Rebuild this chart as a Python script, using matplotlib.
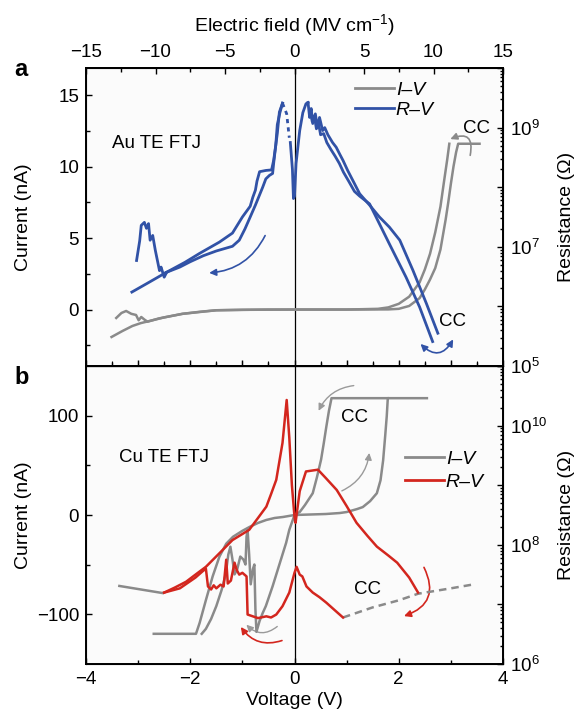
import numpy as np
import matplotlib
matplotlib.use("Agg")
import matplotlib.pyplot as plt
from matplotlib.patches import FancyArrowPatch
from matplotlib.lines import Line2D
from matplotlib.ticker import FixedLocator, FuncFormatter, LogLocator, NullFormatter

plt.rcParams['font.family'] = ['Liberation Sans', 'DejaVu Sans']
plt.rcParams['mathtext.fontset'] = 'custom'
plt.rcParams['mathtext.rm'] = 'Liberation Sans'
plt.rcParams['mathtext.it'] = 'Liberation Sans:italic'
plt.rcParams['mathtext.bf'] = 'Liberation Sans:bold'

GRAY = '#8a8a8a'
BLUE = '#3152a6'
RED = '#d3261e'

# ---------------- (a) Au top electrode ----------------
# I-V, current in nA
au_iv_up_v = [-3.51, -3.3, -3.11, -2.95, -2.78, -2.5, -2.15, -1.8, -1.5, -1.0, -0.5, 0.0, 1.0, 1.8,
              2.0, 2.2, 2.4, 2.5, 2.6, 2.7, 2.8, 2.9, 2.95, 3.0, 3.05, 3.1, 3.14, 3.55]
au_iv_up_i = [-1.92, -1.5, -1.15, -0.95, -0.8, -0.55, -0.3, -0.15, -0.05, -0.02, 0, 0, 0, 0.01,
              0.05, 0.25, 0.8, 1.4, 2.1, 2.9, 4.2, 6.3, 7.5, 8.8, 10.0, 11.0, 11.6, 11.6]
au_iv_dn_v = [2.97, 2.93, 2.87, 2.8, 2.7, 2.6, 2.5, 2.4, 2.2, 2.0, 1.8, 1.6, 1.0, 0.0, -1.0, -1.5,
              -2.15, -2.6, -2.82, -2.88, -2.94, -2.99, -3.04, -3.13, -3.23, -3.32, -3.42]
au_iv_dn_i = [11.6, 10.5, 9.0, 7.2, 5.4, 3.9, 2.8, 1.9, 0.9, 0.4, 0.15, 0.05, 0, 0, -0.02, -0.05,
              -0.3, -0.62, -0.85, -0.7, -0.52, -0.75, -0.38, -0.3, -0.1, -0.24, -0.59]

# R-V, resistance in ohm
au_rv_up_v = [-3.12, -2.8, -2.46, -2.1, -1.82, -1.44, -1.19, -1.0, -0.9, -0.85, -0.8, -0.75, -0.72,
              -0.67, -0.55, -0.44, -0.4, -0.36, -0.33, -0.28, -0.23]
au_rv_up_r = [1.74e6, 2.51e6, 3.72e6, 5.50e6, 7.76e6, 1.20e7, 1.70e7, 3.16e7, 4.17e7, 4.79e7, 6.76e7,
              8.91e7, 1.26e8, 1.82e8, 1.91e8, 1.95e8, 2.82e8, 5.01e8, 1.12e9, 1.78e9, 2.57e9]
au_rv_lo_v = [-2.46, -2.2, -2.0, -1.75, -1.5, -1.19, -1.06, -0.95, -0.85, -0.75, -0.68, -0.61, -0.55,
              -0.48, -0.42, -0.4, -0.36, -0.33, -0.29, -0.23]
au_rv_lo_r = [3.72e6, 4.57e6, 5.62e6, 7.08e6, 8.51e6, 1.02e7, 1.29e7, 2.00e7, 3.16e7, 5.01e7, 7.08e7,
              1.00e8, 1.38e8, 1.58e8, 1.70e8, 2.51e8, 5.01e8, 7.94e8, 1.82e9, 2.57e9]
au_rv_spike_v = [-3.03, -2.97, -2.94, -2.88, -2.84, -2.8, -2.77, -2.72, -2.67, -2.63, -2.59, -2.56,
                 -2.5, -2.46]
au_rv_spike_r = [5.89e6, 1.26e7, 2.29e7, 2.57e7, 2.04e7, 2.45e7, 1.29e7, 1.55e7, 8.71e6, 5.89e6,
                 3.98e6, 4.57e6, 3.09e6, 3.63e6]
au_rv_gap_v = [-0.23, -0.15, -0.1]
au_rv_gap_r = [2.57e9, 1.70e9, 6.76e8]
au_rv_dip_v = [-0.08, -0.04, -0.02, 0.0, 0.03, 0.1, 0.16, 0.22, 0.26]
au_rv_dip_r = [5.62e8, 2.00e8, 6.46e7, 7.08e7, 2.51e8, 8.91e8, 1.78e9, 2.51e9, 2.63e9]
au_rv_r1_v = [0.26, 0.29, 0.32, 0.35, 0.4, 0.44, 0.48, 0.54, 0.58, 0.64, 0.73, 0.8, 0.87, 0.93, 1.02,
              1.15, 1.25, 1.44, 1.63, 1.82, 2.02, 2.27, 2.53, 2.75]
au_rv_r1_r = [2.63e9, 1.48e9, 2.09e9, 1.17e9, 1.70e9, 1.00e9, 1.48e9, 8.91e8, 1.00e9, 7.59e8, 5.62e8,
              4.68e8, 3.55e8, 2.82e8, 1.91e8, 1.15e8, 7.76e7, 5.01e7, 3.16e7, 2.14e7, 1.29e7, 4.07e6,
              1.12e6, 3.55e5]
au_rv_r2_v = [0.3, 0.34, 0.38, 0.42, 0.46, 0.5, 0.56, 0.62, 0.7, 0.78, 0.86, 0.94, 1.04, 1.15, 1.25,
              1.44, 1.82, 2.14, 2.4, 2.65]
au_rv_r2_r = [2.00e9, 1.26e9, 1.58e9, 9.55e8, 1.20e9, 7.59e8, 7.94e8, 5.62e8, 4.27e8, 3.31e8, 2.51e8,
              1.78e8, 1.26e8, 8.51e7, 7.08e7, 5.25e7, 1.12e7, 3.09e6, 9.77e5, 2.57e5]

# ---------------- (b) Cu top electrode ----------------
cu_iv_up_v = [-2.70, -1.89, -1.82, -1.70, -1.57, -1.44, -1.31, -1.18, -1.0, -0.86, -0.7, -0.54, -0.38,
              -0.22, 0.0, 0.3, 0.6, 0.87, 1.0, 1.1, 1.2, 1.31, 1.45, 1.58, 1.65, 1.70, 1.74, 1.77,
              1.79, 2.54]
cu_iv_up_i = [-120, -120, -109, -86, -62, -42, -29, -22, -16, -12, -8, -5, -3, -2, 0, 0.5, 1, 2, 3,
              4.5, 6, 8, 14, 22, 35, 55, 80, 100, 118, 118]
cu_iv_dn_v = [1.79, 0.71, 0.66, 0.61, 0.56, 0.51, 0.43, 0.35, 0.2, 0.1, 0.0, -0.1, -0.16, -0.29, -0.42,
              -0.55, -0.61, -0.67, -0.73, -0.75, -0.77, -0.80, -0.84, -0.87, -0.90, -0.92, -0.94,
              -0.98, -1.04, -1.10, -1.15, -1.19, -1.23, -1.27, -1.32, -1.40, -1.50, -1.60, -1.70,
              -1.78]
cu_iv_dn_i = [118, 118, 105, 89, 72, 56, 38, 22, 10, 3, 0, -15, -28, -50, -72, -92, -99, -107, -118, -95,
              -50, -55, -70, -40, -15, -22, -50, -45, -42, -55, -60, -45, -32, -40, -60, -76, -92,
              -105, -115, -120]

cu_rv_up_v = [-2.50, -2.30, -2.08, -1.90, -1.70, -1.45, -1.19, -0.87, -0.70, -0.54, -0.45, -0.35,
              -0.23, -0.15, -0.10, -0.05, 0.00, 0.02, 0.10, 0.22, 0.45, 0.60, 0.81, 1.00, 1.19, 1.40,
              1.58, 1.80, 1.97, 2.20, 2.37]
cu_rv_up_r = [1.58e7, 1.91e7, 2.40e7, 3.16e7, 4.27e7, 7.08e7, 1.20e8, 1.78e8, 2.82e8, 4.37e8, 7.08e8,
              1.23e9, 5.13e9, 2.69e10, 6.31e9, 1.00e9, 2.95e8, 2.34e8, 7.94e8, 1.70e9, 1.82e9,
              1.32e9, 8.32e8, 4.47e8, 2.34e8, 1.41e8, 9.33e7, 6.61e7, 5.01e7, 2.82e7, 1.58e7]
cu_rv_lo_v = [-2.50, -2.20, -1.90, -1.77, -1.70, -1.66, -1.60, -1.55, -1.50, -1.42, -1.36, -1.31,
              -1.28, -1.22, -1.19, -1.15, -1.11, -1.06, -1.00, -0.92, -0.90, -0.80, -0.70, -0.54,
              -0.45, -0.35, -0.23, -0.10, 0.00, 0.04, 0.10, 0.15, 0.23, 0.35, 0.48, 0.61, 0.75, 0.93]
cu_rv_lo_r = [1.58e7, 1.86e7, 2.82e7, 3.55e7, 3.98e7, 2.00e7, 1.78e7, 2.09e7, 1.86e7, 2.14e7, 2.00e7,
              5.62e7, 2.24e7, 2.51e7, 3.39e7, 5.01e7, 3.80e7, 3.16e7, 3.39e7, 2.95e7, 6.76e6, 6.31e6,
              5.89e6, 6.31e6, 6.03e6, 6.76e6, 9.33e6, 1.58e7, 3.39e7, 4.27e7, 3.16e7, 2.95e7, 2.00e7,
              1.58e7, 1.32e7, 1.07e7, 8.32e6, 6.03e6]
cu_cc_right_v = [0.93, 1.5, 2.0, 2.37, 3.0, 3.4]
cu_cc_right_r = [6.03e6, 8.91e6, 1.17e7, 1.51e7, 1.86e7, 2.14e7]
cu_cc_left_v = [-3.36, -2.53]
cu_cc_left_r = [2.04e7, 1.55e7]


def volt_to_field(v):
    return v * 15 / 4


def field_to_volt(e):
    return e * 4 / 15


def decade_formatter(shown):
    def fmt(val, pos):
        e = int(round(np.log10(val)))
        return '10$^{%d}$' % e if e in shown else ''
    return FuncFormatter(fmt)


def curved_arrow(ax, start, end, rad, color, style='-|>', lw=1.2):
    ax.add_patch(FancyArrowPatch(start, end, connectionstyle='arc3,rad=%s' % rad,
                                 arrowstyle=style, mutation_scale=10, lw=lw, color=color))


tick_kw = dict(direction='in', labelsize=13.5, width=1.0, pad=5)

fig = plt.figure(figsize=(5.79, 7.14), dpi=100)
ax_a = fig.add_axes([86 / 579, 1 - 366 / 714, 417 / 579, 298 / 714])
ax_b = fig.add_axes([86 / 579, 1 - 664 / 714, 417 / 579, 298 / 714])

for ax in (ax_a, ax_b):
    ax.set_facecolor('#fbfbfb')
    ax.set_xlim(-4, 4)
    ax.axvline(0, color='k', lw=0.9, zorder=1)
    for s in ax.spines.values():
        s.set_linewidth(1.4)

# ---- panel a ----
ax_a.plot(au_iv_up_v, au_iv_up_i, color=GRAY, lw=1.8)
ax_a.plot(au_iv_dn_v, au_iv_dn_i, color=GRAY, lw=1.8)
ax_a.set_ylim(-3.95, 16.9)
ax_a.yaxis.set_major_locator(FixedLocator([0, 5, 10, 15]))
ax_a.yaxis.set_minor_locator(FixedLocator([-2.5, 2.5, 7.5, 12.5]))
ax_a.xaxis.set_major_locator(FixedLocator([-4, -3, -2, -1, 0, 1, 2, 3, 4]))
ax_a.xaxis.set_minor_locator(FixedLocator([-3.5, -2.5, -1.5, -0.5, 0.5, 1.5, 2.5, 3.5]))
ax_a.tick_params(which='both', labelbottom=False, right=False, top=False, **tick_kw)
ax_a.tick_params(which='major', length=4)
ax_a.tick_params(which='minor', length=3)
ax_a.set_ylabel('Current (nA)', fontsize=14)
ax_a.yaxis.set_label_coords(-0.13, 0.5)

ax_ar = ax_a.twinx()
ax_ar.set_yscale('log')
ax_ar.set_ylim(1e5, 1e10)
ax_ar.plot(au_rv_up_v, au_rv_up_r, color=BLUE, lw=2)
ax_ar.plot(au_rv_lo_v, au_rv_lo_r, color=BLUE, lw=2)
ax_ar.plot(au_rv_spike_v, au_rv_spike_r, color=BLUE, lw=2)
ax_ar.plot(au_rv_gap_v, au_rv_gap_r, color=BLUE, lw=2, ls=(0, (1.5, 1.5)))
ax_ar.plot(au_rv_dip_v, au_rv_dip_r, color=BLUE, lw=2)
ax_ar.plot(au_rv_r1_v, au_rv_r1_r, color=BLUE, lw=2)
ax_ar.plot(au_rv_r2_v, au_rv_r2_r, color=BLUE, lw=2)
ax_ar.yaxis.set_major_locator(LogLocator(base=10, numticks=20))
ax_ar.yaxis.set_minor_locator(LogLocator(base=10, subs=np.arange(2, 10), numticks=20))
ax_ar.yaxis.set_major_formatter(decade_formatter({5, 7, 9}))
ax_ar.yaxis.set_minor_formatter(NullFormatter())
ax_ar.tick_params(which='both', **tick_kw)
ax_ar.tick_params(which='major', length=4)
ax_ar.tick_params(which='minor', length=2)
ax_ar.set_ylabel('Resistance (\u03a9)', fontsize=14)
ax_ar.yaxis.set_label_coords(1.132, 0.5)

secax = ax_a.secondary_xaxis('top', functions=(volt_to_field, field_to_volt))
secax.xaxis.set_major_locator(FixedLocator([-15, -10, -5, 0, 5, 10, 15]))
secax.xaxis.set_minor_locator(FixedLocator([-12.5, -7.5, -2.5, 2.5, 7.5, 12.5]))
secax.tick_params(which='both', **tick_kw)
secax.tick_params(which='major', length=4)
secax.tick_params(which='minor', length=3)
secax.spines['top'].set_linewidth(1.4)
secax.set_xlabel('Electric field (MV cm$^{-1}$)', fontsize=14, labelpad=9)

ax_a.legend([Line2D([], [], color=GRAY, lw=2), Line2D([], [], color=BLUE, lw=2)],
            ['I\u2013V', 'R\u2013V'], loc='upper left', bbox_to_anchor=(0.645, 0.955),
            frameon=False, borderpad=0, borderaxespad=0, handlelength=2.0, handletextpad=0.1,
            labelspacing=0.12, prop={'style': 'italic', 'size': 14})

ax_a.text(-3.51, 11.64, 'Au TE FTJ', fontsize=13.5, ha='left', va='center')
ax_a.text(3.49, 12.7, 'CC', fontsize=13.5, ha='center', va='center')
ax_a.text(3.03, -0.87, 'CC', fontsize=13.5, ha='center', va='center')
curved_arrow(ax_a, (3.36, 10.6), (2.94, 11.85), 1.0, GRAY)
curved_arrow(ax_a, (-0.54, 5.35), (-1.69, 2.55), -0.3, BLUE)
curved_arrow(ax_a, (2.38, -2.27), (3.07, -1.92), 0.7, BLUE, style='<|-|>')

# ---- panel b ----
ax_b.plot(cu_iv_up_v, cu_iv_up_i, color=GRAY, lw=1.8)
ax_b.plot(cu_iv_dn_v, cu_iv_dn_i, color=GRAY, lw=1.8)
ax_b.set_ylim(-150.5, 150.5)
ax_b.yaxis.set_major_locator(FixedLocator([-100, 0, 100]))
ax_b.yaxis.set_minor_locator(FixedLocator([-50, 50]))
ax_b.xaxis.set_major_locator(FixedLocator([-4, -2, 0, 2, 4]))
ax_b.xaxis.set_minor_locator(FixedLocator([-3, -1, 1, 3]))
ax_b.tick_params(which='both', right=False, top=False, **tick_kw)
ax_b.tick_params(which='major', length=4)
ax_b.tick_params(which='minor', length=3)
ax_b.set_ylabel('Current (nA)', fontsize=14)
ax_b.yaxis.set_label_coords(-0.13, 0.5)
ax_b.set_xlabel('Voltage (V)', fontsize=14)
ax_b.xaxis.set_label_coords(0.5, -0.094)

ax_br = ax_b.twinx()
ax_br.set_yscale('log')
ax_br.set_ylim(1e6, 1e11)
ax_br.plot(cu_cc_left_v, cu_cc_left_r, color=GRAY, lw=1.8)
ax_br.plot(cu_cc_right_v, cu_cc_right_r, color=GRAY, lw=1.8, ls=(0, (3, 2)))
ax_br.plot(cu_rv_up_v, cu_rv_up_r, color=RED, lw=1.8)
ax_br.plot(cu_rv_lo_v, cu_rv_lo_r, color=RED, lw=1.8)
ax_br.yaxis.set_major_locator(LogLocator(base=10, numticks=20))
ax_br.yaxis.set_minor_locator(LogLocator(base=10, subs=np.arange(2, 10), numticks=20))
ax_br.yaxis.set_major_formatter(decade_formatter({6, 8, 10}))
ax_br.yaxis.set_minor_formatter(NullFormatter())
ax_br.tick_params(which='both', **tick_kw)
ax_br.tick_params(which='major', length=4)
ax_br.tick_params(which='minor', length=2)
ax_br.set_ylabel('Resistance (\u03a9)', fontsize=14)
ax_br.yaxis.set_label_coords(1.132, 0.5)

# ticks along the shared edge
ax_b.secondary_xaxis('top').set_xticks([-3.5, -3, -2.5, -2, -1.5, -1, -0.5, 0.5, 1, 1.5, 2, 2.5, 3, 3.5], labels=[])

ax_b.legend([Line2D([], [], color=GRAY, lw=2), Line2D([], [], color=RED, lw=2)],
            ['I\u2013V', 'R\u2013V'], loc='upper left', bbox_to_anchor=(0.765, 0.718),
            frameon=False, borderpad=0, borderaxespad=0, handlelength=2.0, handletextpad=0.1,
            labelspacing=0.3, prop={'style': 'italic', 'size': 14})

ax_b.text(-3.36, 58.4, 'Cu TE FTJ', fontsize=13.5, ha='left', va='center')
ax_b.text(1.15, 98.7, 'CC', fontsize=13.5, ha='center', va='center')
ax_b.text(1.40, -75.5, 'CC', fontsize=13.5, ha='center', va='center')
curved_arrow(ax_b, (1.19, 131), (0.44, 102.7), 0.3, '#9a9a9a', lw=1.0)
curved_arrow(ax_b, (0.86, 23.2), (1.44, 65.5), 0.3, '#9a9a9a', lw=1.0)
curved_arrow(ax_b, (2.46, -50.4), (2.05, -103), -0.6, RED)
curved_arrow(ax_b, (-0.19, -125.9), (-1.06, -110.8), -0.4, RED)
curved_arrow(ax_b, (-0.29, -110.8), (-0.96, -108.8), -0.5, '#9a9a9a', lw=1.0)

fig.text(14 / 579, 1 - 70 / 714, 'a', fontsize=17, fontweight='bold', ha='left', va='center')
fig.text(14 / 579, 1 - 378 / 714, 'b', fontsize=17, fontweight='bold', ha='left', va='center')

fig.savefig('out.png', dpi=100)
